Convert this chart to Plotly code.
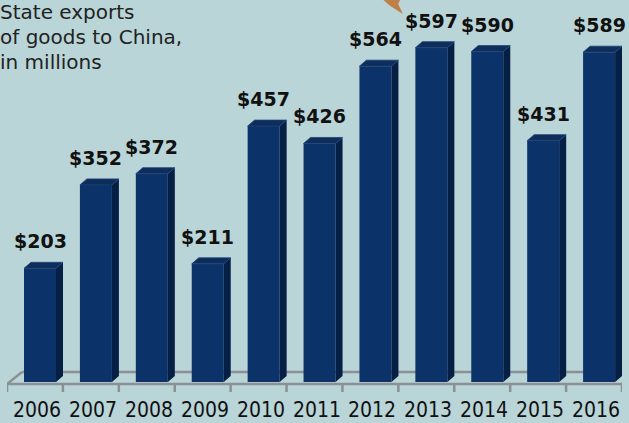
import plotly.graph_objects as go

years = ["2006", "2007", "2008", "2009", "2010", "2011", "2012", "2013", "2014", "2015", "2016"]
values = [203, 352, 372, 211, 457, 426, 564, 597, 590, 431, 589]
labels = ["$203", "$352", "$372", "$211", "$457", "$426", "$564", "$597", "$590", "$431", "$589"]
title_lines = ["State exports", "of goods to China,", "in millions"]

W, H = 629, 423
BG = "#b9d5d8"
FRONT = "#0b3369"
SIDE = "#061f45"
TOP = "#0f2d5a"
FLOOR = "#8b9193"

# pixel geometry helpers
L_PX, R_PX = 7, 622
n = len(years)
cat_px = (R_PX - L_PX) / n
ZERO_PX = 382
PX_PER_UNIT = 0.56

def dx(px):
    return px / cat_px

def dy(px):
    return px / PX_PER_UNIT

y_top = ZERO_PX / PX_PER_UNIT
y_bot = -(H - ZERO_PX) / PX_PER_UNIT

xs = list(range(n))
bar_off = dx(24 - (L_PX + cat_px / 2))
bar_w = dx(32)
depth_x, depth_y = dx(7), dy(6)

fig = go.Figure()
fig.add_trace(go.Bar(x=xs, y=values, width=[bar_w] * n, offset=[bar_off] * n,
                     marker=dict(color=FRONT, line=dict(width=0)), hoverinfo="skip"))

# side faces and top faces
sx, sy, tx, ty = [], [], [], []
for i, v in zip(xs, values):
    xl = i + bar_off
    xr = xl + bar_w
    sx += [xr, xr, xr + depth_x, xr + depth_x, xr, None]
    sy += [0, v, v + depth_y, depth_y, 0, None]
    tx += [xl, xr, xr + depth_x, xl + depth_x, xl, None]
    ty += [v, v, v + depth_y, v + depth_y, v, None]
fig.add_trace(go.Scatter(x=sx, y=sy, fill="toself", fillcolor=SIDE, mode="lines",
                         line=dict(width=0, color=SIDE), hoverinfo="skip"))
fig.add_trace(go.Scatter(x=tx, y=ty, fill="toself", fillcolor=TOP, mode="lines",
                         line=dict(width=0.8, color="#1c4478"), hoverinfo="skip"))

# floor
x0 = -0.5
x1 = n - 0.5
fy = dy(ZERO_PX - 384)
fdx, fdy = dx(15), dy(12)
shapes = [
    dict(type="line", xref="x", yref="y", x0=x0, x1=x1, y0=fy, y1=fy, line=dict(color=FLOOR, width=2.5), layer="below"),
    dict(type="line", xref="x", yref="y", x0=x0 + fdx, x1=x1 + fdx, y0=fy + fdy, y1=fy + fdy, line=dict(color=FLOOR, width=2.5), layer="below"),
    dict(type="line", xref="x", yref="y", x0=x0, x1=x0 + fdx, y0=fy, y1=fy + fdy, line=dict(color=FLOOR, width=2.5), layer="below"),
    dict(type="line", xref="x", yref="y", x0=x1, x1=x1 + fdx, y0=fy, y1=fy + fdy, line=dict(color=FLOOR, width=2.5), layer="below"),
]
for k in range(n + 1):
    xk = k - 0.5
    shapes.append(dict(type="line", xref="x", yref="y", x0=xk, x1=xk, y0=fy, y1=fy - dy(8),
                       line=dict(color=FLOOR, width=2.5)))

# orange decorative arrow tip (cut off at top)
shapes.append(dict(type="path", xref="paper", yref="paper",
                   path="M {} {} L {} {} L {} {} L {} {} L {} {} Z".format(
                       385 / W, 1, 402 / W, 1, 400 / W, 1 - 4 / H, 405 / W, 1 - 14 / H, 392 / W, 1 - 6 / H),
                   fillcolor="#c07f46", line=dict(width=0)))

annotations = []
for i, v, t in zip(xs, values, labels):
    annotations.append(dict(x=i + bar_off + bar_w / 2, y=v, xref="x", yref="y", text="<b>" + t + "</b>",
                            showarrow=False, yanchor="bottom", yshift=14,
                            font=dict(family="DejaVu Sans", size=19, color="#111111")))
for i, yr in zip(xs, years):
    annotations.append(dict(x=i + dx(2), y=dy(ZERO_PX - 410), xref="x", yref="y", text=yr,
                            showarrow=False, yanchor="middle",
                            font=dict(family="DejaVu Sans Condensed", size=21, color="#111111")))
for j, line in enumerate(title_lines):
    annotations.append(dict(x=0, y=1, xref="paper", yref="paper", xanchor="left", yanchor="top",
                            text=line, showarrow=False, align="left", xshift=-9, yshift=2 - 25 * j,
                            font=dict(family="DejaVu Sans", size=20, color="#222222")))

fig.update_layout(
    width=W, height=H,
    margin=dict(l=L_PX, r=W - R_PX, t=0, b=0, pad=0),
    paper_bgcolor=BG, plot_bgcolor=BG,
    showlegend=False,
    xaxis=dict(range=[-0.5, n - 0.5], visible=False, fixedrange=True),
    yaxis=dict(range=[y_bot, y_top], visible=False, fixedrange=True),
    shapes=shapes, annotations=annotations,
)
fig.write_html("out.html", config={"displayModeBar": False},
               post_script="document.body.style.margin='0';document.body.style.padding='0';document.body.style.background='" + BG + "';")
